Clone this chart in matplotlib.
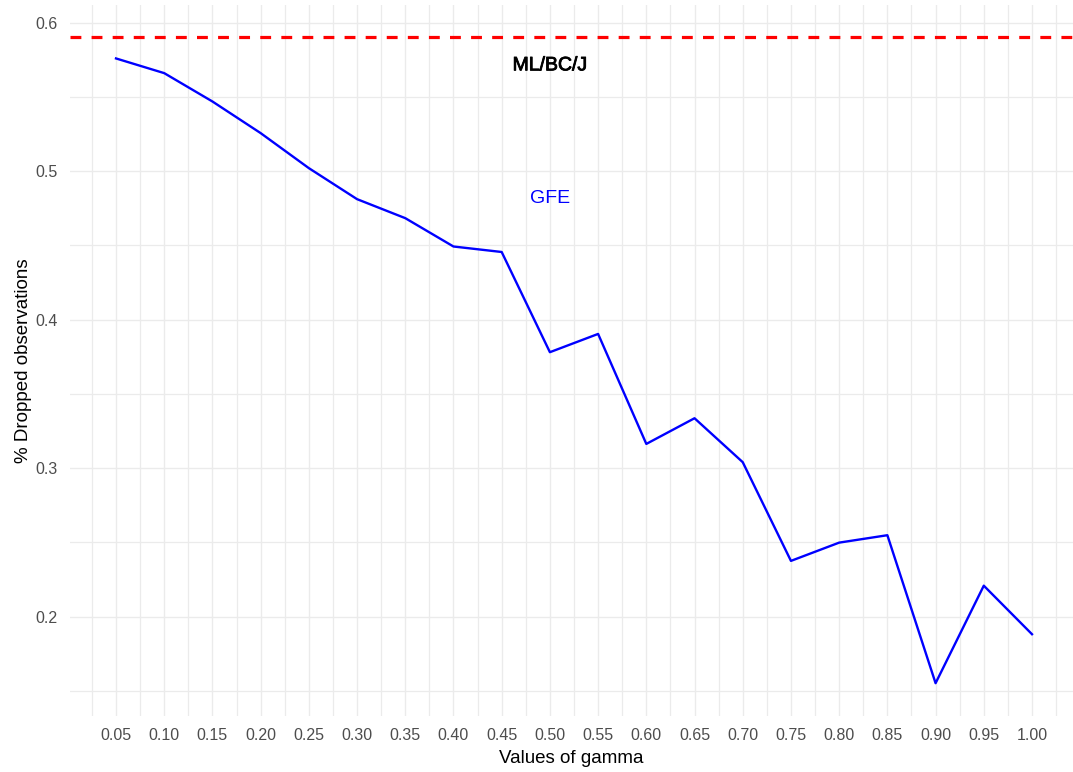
import numpy as np
import matplotlib
matplotlib.use("Agg")
import matplotlib.pyplot as plt
import matplotlib.patheffects as pe

# values
gamma = [0.05, 0.10, 0.15, 0.20, 0.25, 0.30, 0.35, 0.40, 0.45, 0.50,
         0.55, 0.60, 0.65, 0.70, 0.75, 0.80, 0.85, 0.90, 0.95, 1.00]
dropped_gfe = [0.5760, 0.5661, 0.5470, 0.5257, 0.5021, 0.4812, 0.4684, 0.4493, 0.4456, 0.3781,
               0.3904, 0.3163, 0.3336, 0.3040, 0.2375, 0.2498, 0.2548, 0.1551, 0.2208, 0.1881]
dropped_ml = 0.5905
x_ticks = [0.05, 0.10, 0.15, 0.20, 0.25, 0.30, 0.35, 0.40, 0.45, 0.50,
           0.55, 0.60, 0.65, 0.70, 0.75, 0.80, 0.85, 0.90, 0.95, 1.00]
y_ticks = [0.2, 0.3, 0.4, 0.5, 0.6]

plt.rcParams['font.family'] = ['Liberation Sans', 'DejaVu Sans']

W, H = 1073, 772
fig = plt.figure(figsize=(W / 100, H / 100), dpi=100)
left, right, top, bottom = 70, 1073, 5, 716
ax = fig.add_axes([left / W, (H - bottom) / H, (right - left) / W, (bottom - top) / H])

px_per_unit = (1032 - 116) / 0.95
x0 = 0.05 - (116 - left) / px_per_unit
ax.set_xlim(x0, x0 + (right - left) / px_per_unit)
ax.set_ylim(0.133, 0.612)

# grid, ggplot theme_minimal style
grid_col = '#EBEBEB'
ax.set_xticks(x_ticks)
ax.set_xticklabels([f"{v:.2f}" for v in x_ticks])
ax.set_xticks([t - 0.025 for t in x_ticks] + [1.025], minor=True)
ax.set_yticks(y_ticks)
ax.set_yticklabels([f"{v:.1f}" for v in y_ticks])
ax.set_yticks([0.15, 0.25, 0.35, 0.45, 0.55], minor=True)
ax.grid(True, which='major', color=grid_col, linewidth=1.0)
ax.grid(True, which='minor', color=grid_col, linewidth=0.9)
ax.set_axisbelow(True)
for s in ax.spines.values():
    s.set_visible(False)
ax.tick_params(which='both', length=0)
ax.tick_params(axis='x', pad=9, labelsize=11.5, labelcolor='#4D4D4D')
ax.tick_params(axis='y', pad=9, labelsize=11.5, labelcolor='#4D4D4D')

ax.plot(gamma, dropped_gfe, color='#0000FF', linewidth=1.7)
ax.axhline(dropped_ml, color='#FF0000', linewidth=2.3, linestyle=(0, (3.4, 3.2)))

ax.text(0.50, 0.571, "ML/BC/J", color='black', fontsize=14, ha='center', va='center',
        path_effects=[pe.withStroke(linewidth=0.6, foreground='black')])
ax.text(0.50, 0.4815, "GFE", color='#0000FF', fontsize=14, ha='center', va='center')

ax.set_xlabel("Values of gamma", fontsize=13.5, labelpad=5)
ax.set_ylabel("% Dropped observations", fontsize=13.5, labelpad=2)

fig.savefig("out.png", dpi=100)
